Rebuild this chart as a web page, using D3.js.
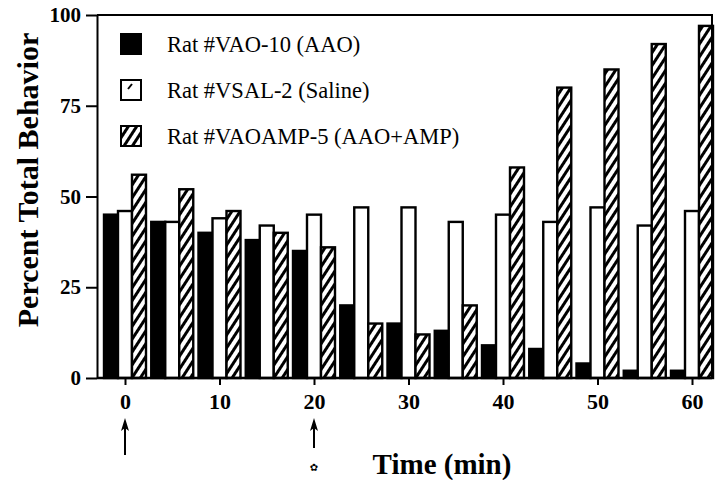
<!DOCTYPE html>
<html>
<head>
<meta charset="utf-8">
<title>Percent Total Behavior</title>
<script src="https://cdn.jsdelivr.net/npm/d3@7/dist/d3.min.js"></script>
<style>
  body { margin: 0; background: #fff; }
  svg text { font-family: "Liberation Serif", "Times New Roman", serif; fill: #000; }
</style>
</head>
<body>
<script>
// values (percent of total behavior, per 5 min bin)
var times = [0, 5, 10, 15, 20, 25, 30, 35, 40, 45, 50, 55, 60];
var aao = [45, 43, 40, 38, 35, 20, 15, 13, 9, 8, 4, 2, 2];
var saline = [46, 43, 44, 42, 45, 47, 47, 43, 45, 43, 47, 42, 46];
var aaoAmp = [56, 52, 46, 40, 36, 15, 12, 20, 58, 80, 85, 92, 97];
var yTicks = [0, 25, 50, 75, 100];
var xTicks = [0, 10, 20, 30, 40, 50, 60];
var legendLabels = ['Rat #VAO-10 (AAO)', 'Rat #VSAL-2 (Saline)', 'Rat #VAOAMP-5 (AAO+AMP)'];

var width = 720, height = 480;
// plot box ("top" is taken by window.top, so use plotX/plotY names)
var plotLeft = 97, plotRight = 712, plotTop = 15, plotBottom = 378;
var barW = 14;

var svg = d3.select('body').append('svg')
    .attr('width', width)
    .attr('height', height);

// hatch pattern for the AAO+AMP bars
var defs = svg.append('defs');
defs.append('pattern')
    .attr('id', 'hatch')
    .attr('patternUnits', 'userSpaceOnUse')
    .attr('width', 7)
    .attr('height', 7)
    .attr('patternTransform', 'rotate(33)')
    .call(function(p) {
        p.append('rect').attr('width', 7).attr('height', 7).attr('fill', '#fff');
        p.append('line').attr('x1', 1.5).attr('y1', 0).attr('x2', 1.5).attr('y2', 7)
            .attr('stroke', '#000').attr('stroke-width', 3);
    });

var x = d3.scaleLinear().domain([0, 60]).range([125, 692]);
var y = d3.scaleLinear().domain([0, 100]).range([plotBottom, plotTop]);

// series: offset of each bar from the tick, and its look
var series = [
    { values: aao, dx: -21, fill: '#000' },
    { values: saline, dx: -7, fill: '#fff' },
    { values: aaoAmp, dx: 7, fill: 'url(#hatch)' }
];

series.forEach(function(s) {
    svg.append('g').selectAll('rect')
        .data(times)
        .enter().append('rect')
        .attr('x', function(d) { return x(d) + s.dx; })
        .attr('y', function(d, i) { return y(s.values[i]); })
        .attr('width', barW)
        .attr('height', function(d, i) { return y(0) - y(s.values[i]); })
        .attr('fill', s.fill)
        .attr('stroke', '#000')
        .attr('stroke-width', 2.4);
});

// frame (top + right) and baseline
svg.append('path')
    .attr('d', 'M' + plotLeft + ',' + plotTop + 'H' + plotRight + 'V' + plotBottom)
    .attr('fill', 'none').attr('stroke', '#000').attr('stroke-width', 2);
svg.append('line')
    .attr('x1', plotLeft).attr('x2', plotRight).attr('y1', plotBottom).attr('y2', plotBottom)
    .attr('stroke', '#000').attr('stroke-width', 2.5);

// y axis
var yAxis = svg.append('g')
    .attr('transform', 'translate(' + plotLeft + ',0)')
    .call(d3.axisLeft(y).tickValues(yTicks).tickSize(11).tickSizeOuter(0).tickPadding(5));
yAxis.select('.domain').attr('stroke-width', 2);
yAxis.selectAll('.tick line').attr('stroke-width', 2);
yAxis.selectAll('text')
    .style('font-family', '"Liberation Serif", serif')
    .style('font-size', '21px').style('font-weight', 'bold');

// x axis
var xAxis = svg.append('g')
    .attr('transform', 'translate(0,' + plotBottom + ')')
    .call(d3.axisBottom(x).tickValues(xTicks).tickSize(7).tickPadding(8));
xAxis.select('.domain').remove();
xAxis.selectAll('.tick line').attr('stroke-width', 2);
xAxis.selectAll('text')
    .style('font-family', '"Liberation Serif", serif')
    .style('font-size', '22px').style('font-weight', 'bold');

// axis titles
svg.append('text')
    .attr('transform', 'translate(38,180) rotate(-90)')
    .attr('text-anchor', 'middle')
    .style('font-size', '30px').style('font-weight', 'bold')
    .text('Percent Total Behavior');
svg.append('text')
    .attr('x', 442).attr('y', 474)
    .attr('text-anchor', 'middle')
    .style('font-size', '29px').style('font-weight', 'bold')
    .text('Time (min)');

// injection arrows under 0 and 20 min
[{ t: 0, y1: 418, y2: 455 }, { t: 20, y1: 418, y2: 448 }].forEach(function(a) {
    var ax = x(a.t);
    svg.append('line')
        .attr('x1', ax).attr('x2', ax).attr('y1', a.y1 + 8).attr('y2', a.y2)
        .attr('stroke', '#000').attr('stroke-width', 2);
    svg.append('path')
        .attr('d', 'M' + ax + ',' + a.y1 + 'L' + (ax - 4) + ',' + (a.y1 + 13) + 'L' + ax + ',' + (a.y1 + 10) + 'L' + (ax + 4) + ',' + (a.y1 + 13) + 'Z')
        .attr('fill', '#000');
});
svg.append('text')
    .attr('x', x(20)).attr('y', 471)
    .attr('text-anchor', 'middle')
    .style('font-family', '"DejaVu Sans", sans-serif')
    .style('font-size', '10px')
    .text('\u273F');

// legend
var legend = svg.append('g');
legendLabels.forEach(function(label, i) {
    var cy = 44 + i * 46;
    legend.append('rect')
        .attr('x', 121).attr('y', cy - 10)
        .attr('width', 20).attr('height', 20)
        .attr('fill', series[i].fill)
        .attr('stroke', '#000').attr('stroke-width', 2);
    if (i === 1) {
        legend.append('line')
            .attr('x1', 128).attr('y1', cy - 1).attr('x2', 132).attr('y2', cy - 6)
            .attr('stroke', '#000').attr('stroke-width', 2);
    }
    legend.append('text')
        .attr('x', 167).attr('y', cy + 8)
        .style('font-size', '22.5px')
        .text(label);
});
</script>
</body>
</html>
